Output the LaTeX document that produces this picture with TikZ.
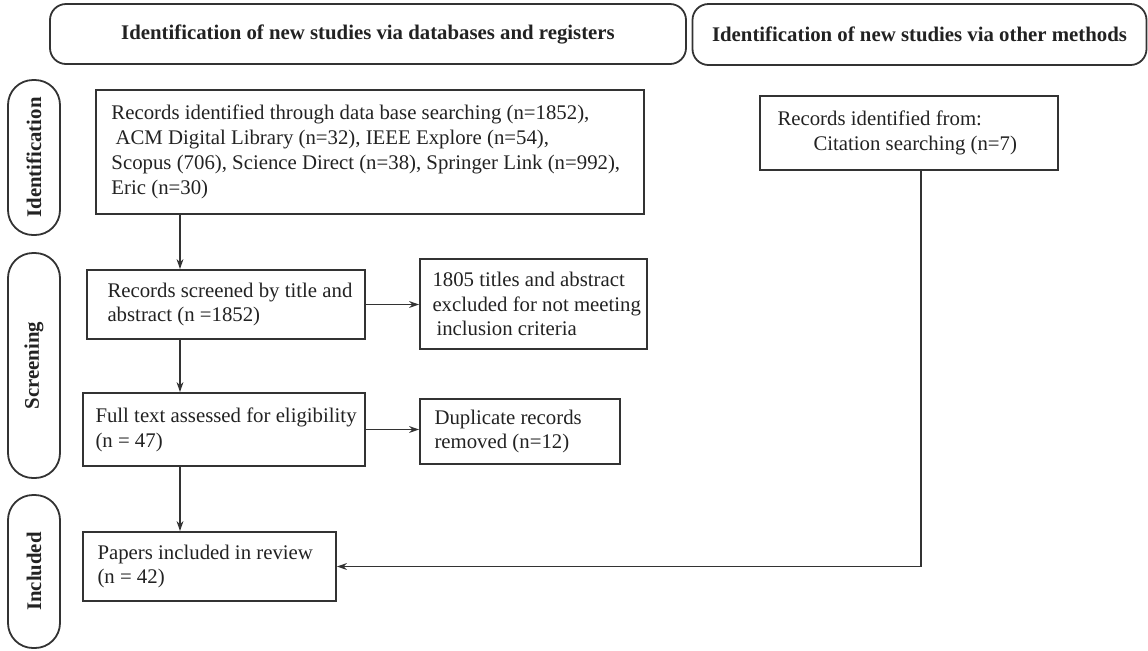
\documentclass[tikz,border=0pt]{standalone}
\usepackage{fontspec}
\setmainfont{Liberation Serif}
\usetikzlibrary{arrows.meta, positioning}
\definecolor{linegray}{HTML}{333333}
\definecolor{inkgray}{HTML}{222222}

\tikzset{
  stagebox/.style={rectangle, draw=linegray, line width=0.9pt, inner sep=0pt},
  boxtext/.style={anchor=west, align=left, inner sep=0pt, text=inkgray, font=\fontsize{10.4}{12.4}\selectfont},
  header/.style={rectangle, rounded corners=8pt, draw=linegray, line width=0.9pt, inner sep=0pt, text=inkgray, font=\fontsize{10.4}{12.4}\selectfont\bfseries},
  phase/.style={rectangle, rounded corners=12.5pt, draw=linegray, line width=0.9pt, inner sep=0pt, minimum height=26pt, rotate=90, text=inkgray, font=\fontsize{10.4}{12.4}\selectfont\bfseries},
  flow/.style={draw=linegray, line width=0.6pt, -{Stealth[length=5pt, width=3.4pt]}},
}

\begin{document}
\begin{tikzpicture}[x=0.5pt, y=-0.5pt]
\useasboundingbox (0,0) rectangle (1148,650);

% Headers
\node[header, minimum width=318pt, minimum height=30pt] (dbhead) at (368,34) {Identification of new studies via databases and registers};
\node[header, minimum width=227pt, minimum height=30.5pt] (otherhead) at (919.5,34.5) {Identification of new studies via other methods};

% Phases
\node[phase, minimum width=77.5pt] (identification) at (34,157.5) {Identification};
\node[phase, minimum width=112.5pt] (screening) at (34,365.5) {Screening};
\node[phase, minimum width=76.5pt] (included) at (34,571.5) {Included};

% Boxes
\node[stagebox, minimum width=274pt, minimum height=62pt] (records) at (370,152) {};
\node[stagebox, minimum width=139pt, minimum height=34.5pt] (screened) at (226,304.5) {};
\node[stagebox, minimum width=113.5pt, minimum height=45pt] (excluded) at (533.5,304) {};
\node[stagebox, minimum width=141pt, minimum height=36.5pt] (fulltext) at (224,429.5) {};
\node[stagebox, minimum width=100pt, minimum height=32.5pt] (duplicate) at (520,431.5) {};
\node[stagebox, minimum width=126.5pt, minimum height=34.5pt] (papers) at (209.5,566.5) {};
\node[stagebox, minimum width=149pt, minimum height=37pt] (citation) at (909,133) {};

% Text
\node[boxtext] at ([xshift=8pt]records.west) {Records identified through data base searching (n=1852),\\ \hspace*{2pt}ACM Digital Library (n=32), IEEE Explore (n=54),\\ Scopus (706), Science Direct (n=38), Springer Link (n=992),\\ Eric (n=30)};
\node[boxtext] at ([xshift=10.5pt]screened.west) {Records screened by title and\\ abstract (n =1852)};
\node[boxtext] at ([xshift=6.5pt]excluded.west) {1805 titles and abstract\\ excluded for not meeting\\ \hspace*{2pt}inclusion criteria};
\node[boxtext] at ([xshift=6.5pt]fulltext.west) {Full text assessed for eligibility\\ (n = 47)};
\node[boxtext] at ([xshift=7.5pt]duplicate.west) {Duplicate records\\ removed (n=12)};
\node[boxtext] at ([xshift=7.5pt]papers.west) {Papers included in review\\ (n = 42)};
\node[boxtext] at ([xshift=9pt]citation.west) {Records identified from:\\ \hspace*{18pt}Citation searching (n=7)};

% Arrows
\coordinate (spine) at (180,0);
\draw[flow] (spine |- records.south) -- (spine |- screened.north);
\draw[flow] (spine |- screened.south) -- (spine |- fulltext.north);
\draw[flow] (spine |- fulltext.south) -- (spine |- papers.north);
\draw[flow] (screened.east) -- (screened.east -| excluded.west);
\draw[flow] (fulltext.east) -- (fulltext.east -| duplicate.west);
\draw[flow] ([xshift=6pt]citation.south) |- (papers.east);
\end{tikzpicture}
\end{document}
